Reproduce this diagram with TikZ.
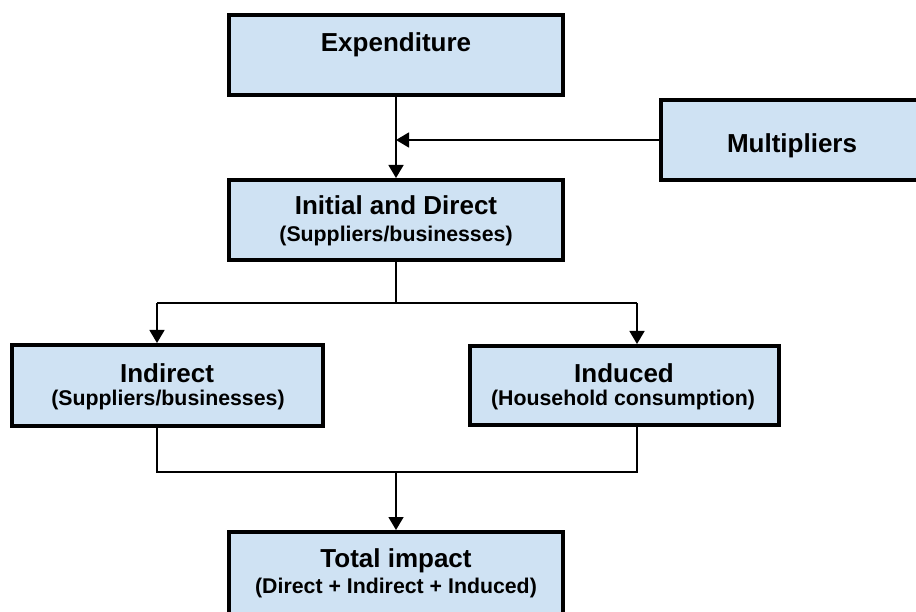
\documentclass[tikz,border=0pt]{standalone}
\usepackage{fontspec}
\setmainfont{Liberation Sans}
\usetikzlibrary{arrows.meta,calc}
\definecolor{boxblue}{RGB}{207,226,243}
\tikzset{
  flowbox/.style={draw=black, line width=4pt, fill=boxblue, rectangle, inner sep=0pt},
  ttl/.style={anchor=base, font=\bfseries\fontsize{26}{30}\selectfont, inner sep=0pt},
  sub/.style={anchor=base, font=\bfseries\fontsize{21.3}{25}\selectfont, inner sep=0pt},
  conn/.style={draw=black, line width=1.5pt},
  arr/.style={conn, -{Triangle[length=13pt,width=15pt]}}
}
\begin{document}
\begin{tikzpicture}[x=1pt,y=-1pt]
\useasboundingbox (0,0) rectangle (916,612);
% boxes
\node[flowbox, minimum width=334pt, minimum height=80pt] (exp) at (396,55) {};
\node[flowbox, minimum width=269pt, minimum height=80pt] (mult) at (795.5,140) {};
\node[flowbox, minimum width=334pt, minimum height=80pt] (init) at (396,220) {};
\node[flowbox, minimum width=311pt, minimum height=81pt] (ind) at (167.5,385.5) {};
\node[flowbox, minimum width=309pt, minimum height=79pt] (idc) at (624.5,385.5) {};
\node[flowbox, minimum width=334pt, minimum height=90pt] (tot) at (396,577) {};
% texts
\node[ttl] (texp) at (396,52) {Expenditure};
\node[ttl] (tmult) at (792,153) {Multipliers};
\node[ttl] (tinit) at (396,215) {Initial and Direct};
\node[sub] (sinit) at (396,242) {(Suppliers/businesses)};
\node[ttl] (tind) at (167,382) {Indirect};
\node[sub] (sind) at (168,405.5) {(Suppliers/businesses)};
\node[ttl] (tidc) at (624,382) {Induced};
\node[sub] (sidc) at (623,406) {(Household consumption)};
\node[ttl] (ttot) at (396,567.5) {Total impact};
\node[sub] (stot) at (396,593.5) {(Direct + Indirect + Induced)};
% connectors
\coordinate (split) at (396,303);
\coordinate (sL) at (157,303);
\coordinate (sR) at (637,303);
\coordinate (jL) at (157,472);
\coordinate (jR) at (637,472);
\coordinate (merge) at (396,472);
\draw[arr] (exp.south) -- (init.north);
\draw[arr] (mult.west) -- (mult.west -| exp.south);
\draw[conn] (init.south) -- (split);
\draw[conn] (sL) -- (sR);
\draw[arr] (sL) -- (sL |- ind.north);
\draw[arr] (sR) -- (sR |- idc.north);
\draw[conn] (sL |- ind.south) -- (jL) -- (jR) -- (sR |- idc.south);
\draw[arr] (merge) -- (tot.north);
\end{tikzpicture}
\end{document}
